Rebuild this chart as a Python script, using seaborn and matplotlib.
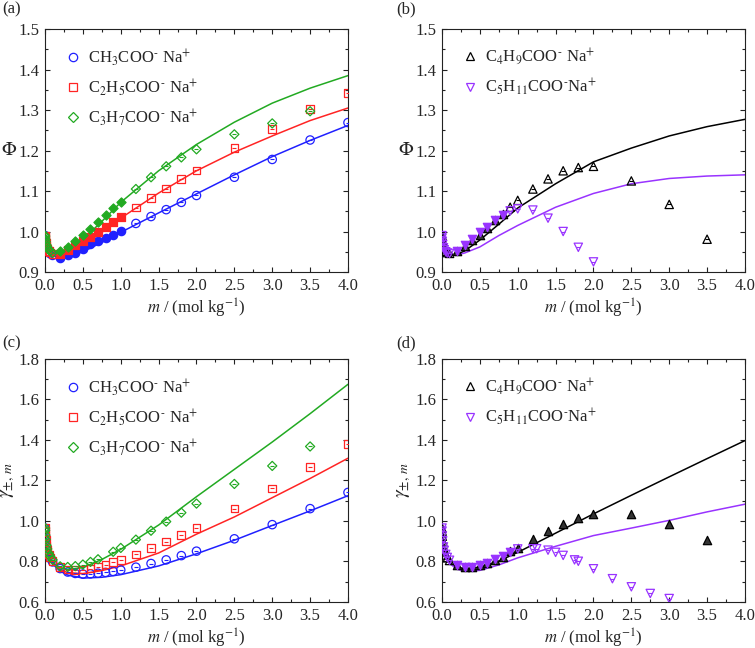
import numpy as np
import pandas as pd
import matplotlib
matplotlib.use("Agg")
import matplotlib.pyplot as plt
import seaborn as sns
from matplotlib.lines import Line2D
from matplotlib.ticker import MultipleLocator

# ---------------- data ----------------
m_low = [0.001, 0.002, 0.005, 0.01, 0.02, 0.03, 0.05, 0.07, 0.1]
m_mid = [0.2, 0.3, 0.4, 0.5, 0.6, 0.7, 0.8, 0.9, 1.0]
m_high = [1.2, 1.4, 1.6, 1.8, 2.0, 2.5, 3.0, 3.5, 4.0]

# (a) osmotic coefficient, experimental
phi_c1 = [0.990, 0.986, 0.979, 0.972, 0.963, 0.957, 0.950, 0.945, 0.941,
          0.935, 0.941, 0.948, 0.958, 0.968, 0.977, 0.985, 0.992, 1.002,
          1.020, 1.037, 1.054, 1.072, 1.089, 1.134, 1.178, 1.226, 1.269]
phi_c2 = [0.990, 0.986, 0.979, 0.972, 0.964, 0.958, 0.952, 0.948, 0.945,
          0.945, 0.954, 0.966, 0.977, 0.987, 0.999, 1.011, 1.024, 1.035,
          1.059, 1.083, 1.106, 1.129, 1.151, 1.206, 1.253, 1.302, 1.342]
m_c3 = m_low + m_mid + [1.2, 1.4, 1.6, 1.8, 2.0, 2.5, 3.0, 3.5]
phi_c3 = [0.990, 0.987, 0.981, 0.975, 0.967, 0.962, 0.955, 0.951, 0.947,
          0.951, 0.962, 0.977, 0.991, 1.007, 1.024, 1.040, 1.057, 1.073,
          1.105, 1.134, 1.161, 1.183, 1.203, 1.240, 1.267, 1.297]

# (b) osmotic coefficient, experimental
m_c4 = m_low + m_mid + [1.2, 1.4, 1.6, 1.8, 2.0, 2.5, 3.0, 3.5]
phi_c4 = [0.990, 0.985, 0.977, 0.970, 0.962, 0.957, 0.951, 0.948, 0.946,
          0.952, 0.964, 0.978, 0.991, 1.009, 1.028, 1.044, 1.060, 1.077,
          1.105, 1.130, 1.150, 1.158, 1.161, 1.125, 1.067, 0.981]
m_c5 = m_low + m_mid + [1.2, 1.4, 1.6, 1.8, 2.0]
phi_c5 = [0.990, 0.984, 0.976, 0.968, 0.960, 0.955, 0.950, 0.947, 0.946,
          0.953, 0.967, 0.981, 0.998, 1.012, 1.028, 1.041, 1.051, 1.056,
          1.053, 1.033, 1.000, 0.961, 0.925]

# (c) activity coefficient, experimental
gam_c1 = [0.965, 0.952, 0.928, 0.905, 0.875, 0.855, 0.832, 0.816, 0.798,
          0.765, 0.748, 0.741, 0.738, 0.739, 0.742, 0.746, 0.751, 0.758,
          0.772, 0.790, 0.808, 0.829, 0.851, 0.912, 0.982, 1.061, 1.141]
gam_c2 = [0.965, 0.952, 0.929, 0.906, 0.877, 0.858, 0.835, 0.820, 0.803,
          0.772, 0.760, 0.758, 0.760, 0.765, 0.775, 0.785, 0.797, 0.809,
          0.835, 0.866, 0.898, 0.932, 0.965, 1.061, 1.161, 1.268, 1.381]
m_gc3 = m_low + [0.2, 0.3, 0.4, 0.5, 0.6, 0.7, 0.9, 1.0] + [1.2, 1.4, 1.6, 1.8, 2.0, 2.5, 3.0, 3.5]
gam_c3 = [0.965, 0.953, 0.930, 0.909, 0.880, 0.862, 0.840, 0.825, 0.808,
          0.776, 0.773, 0.777, 0.785, 0.798, 0.811, 0.848, 0.867,
          0.908, 0.952, 0.997, 1.041, 1.086, 1.183, 1.272, 1.368]

# (d) activity coefficient, experimental
m_gc4 = m_low + m_mid + [1.2, 1.4, 1.6, 1.8, 2.0, 2.5, 3.0, 3.5]
gam_c4 = [0.965, 0.950, 0.925, 0.900, 0.870, 0.853, 0.832, 0.818, 0.805,
          0.782, 0.772, 0.772, 0.781, 0.792, 0.805, 0.820, 0.850, 0.867,
          0.910, 0.950, 0.986, 1.013, 1.034, 1.033, 0.984, 0.904]
m_gc5 = m_low + m_mid + [1.2, 1.25, 1.4, 1.5, 1.6, 1.75, 1.8, 2.0, 2.25, 2.5, 2.75, 3.0]
gam_c5 = [0.965, 0.950, 0.926, 0.902, 0.872, 0.855, 0.835, 0.820, 0.806,
          0.782, 0.774, 0.775, 0.785, 0.795, 0.810, 0.825, 0.848, 0.862,
          0.863, 0.863, 0.856, 0.845, 0.830, 0.808, 0.801, 0.764, 0.715, 0.675, 0.642, 0.617]

# model curves
m_line = [0.001, 0.01, 0.03, 0.06, 0.1, 0.2, 0.3, 0.5, 0.75, 1.0, 1.5, 2.0, 2.5, 3.0, 3.5, 4.0]
phi_l1 = [0.990, 0.968, 0.955, 0.946, 0.940, 0.935, 0.937, 0.950, 0.973, 0.998, 1.046, 1.093, 1.140, 1.185, 1.225, 1.262]
phi_l2 = [0.990, 0.968, 0.956, 0.948, 0.943, 0.941, 0.946, 0.965, 0.998, 1.033, 1.095, 1.150, 1.196, 1.236, 1.274, 1.305]
phi_l3 = [0.990, 0.970, 0.958, 0.951, 0.947, 0.946, 0.953, 0.980, 1.025, 1.072, 1.150, 1.215, 1.270, 1.317, 1.354, 1.385]
phi_l4 = [0.990, 0.968, 0.955, 0.947, 0.943, 0.944, 0.952, 0.979, 1.018, 1.058, 1.118, 1.172, 1.206, 1.236, 1.259, 1.277]
phi_l5 = [0.990, 0.968, 0.955, 0.947, 0.943, 0.942, 0.947, 0.962, 0.990, 1.015, 1.060, 1.094, 1.118, 1.131, 1.137, 1.140]
gam_l1 = [0.965, 0.902, 0.850, 0.815, 0.788, 0.752, 0.733, 0.718, 0.722, 0.735, 0.778, 0.838, 0.905, 0.978, 1.050, 1.125]
gam_l2 = [0.965, 0.903, 0.852, 0.818, 0.792, 0.760, 0.745, 0.740, 0.755, 0.778, 0.842, 0.935, 1.020, 1.115, 1.210, 1.310]
gam_l3 = [0.965, 0.904, 0.854, 0.821, 0.795, 0.768, 0.760, 0.770, 0.810, 0.860, 0.980, 1.120, 1.255, 1.390, 1.530, 1.675]
gam_l4 = [0.965, 0.902, 0.852, 0.818, 0.795, 0.772, 0.765, 0.772, 0.802, 0.845, 0.940, 1.035, 1.127, 1.218, 1.308, 1.397]
gam_l5 = [0.965, 0.900, 0.850, 0.814, 0.790, 0.762, 0.752, 0.756, 0.783, 0.818, 0.875, 0.928, 0.965, 1.003, 1.045, 1.083]

labels_ab = [r"CH$_3$COO$^{\text{-}}$ Na$^{+}$", r"C$_2$H$_5$COO$^{\text{-}}$ Na$^{+}$",
             r"C$_3$H$_7$COO$^{\text{-}}$ Na$^{+}$"]
labels_cd = [r"C$_4$H$_9$COO$^{\text{-}}$ Na$^{+}$", r"C$_5$H$_{11}$COO$^{\text{-}}$Na$^{+}$"]

BLUE, RED, GREEN, PURPLE, BLACK = "#2020ff", "#ff2424", "#22aa22", "#9933ff", "#000000"

# ---------------- style ----------------
sns.set_style("ticks")
plt.rcParams["font.family"] = ["Liberation Serif", "DejaVu Serif"]
plt.rcParams["mathtext.fontset"] = "stix"
plt.rcParams["xtick.direction"] = "in"
plt.rcParams["ytick.direction"] = "in"
plt.rcParams["axes.edgecolor"] = "#222222"
plt.rcParams["axes.linewidth"] = 0.8

FS = 11
fig = plt.figure(figsize=(7.55, 6.48), dpi=100)
W, H = 0.4013, 0.375
axA = fig.add_axes([0.0596, 0.5802, W, H])
axB = fig.add_axes([0.5854, 0.5802, W, H])
axC = fig.add_axes([0.0596, 0.0710, W, H])
axD = fig.add_axes([0.5854, 0.0710, W, H])

MS = 36  # marker area
SIZE_FACTOR = {"o": 1.0, "s": 0.85, "D": 0.6, "^": 1.0, "v": 1.0}


def points(ax, m, y, color, marker, filled_lo=None, filled_hi=None, fill_color=None):
    df = pd.DataFrame({"m": m, "y": y})
    if filled_lo is not None:
        mask = (df.m >= filled_lo) & (df.m <= filled_hi)
    else:
        mask = pd.Series(False, index=df.index)
    hol = df[~mask]
    fil = df[mask]
    s = MS * SIZE_FACTOR[marker]
    if len(hol):
        sns.scatterplot(data=hol, x="m", y="y", ax=ax, marker=marker, s=s,
                        facecolor="none", edgecolor=color, linewidth=0.9, zorder=3)
        sns.scatterplot(data=hol, x="m", y="y", ax=ax, marker="_", s=MS * 0.3,
                        color=color, linewidth=0.8, zorder=3)
    if len(fil):
        sns.scatterplot(data=fil, x="m", y="y", ax=ax, marker=marker, s=s,
                        color=fill_color or color, edgecolor=color, linewidth=0.9, zorder=3)


def curve(ax, y, color):
    sns.lineplot(x=m_line, y=y, ax=ax, color=color, linewidth=1.1, estimator=None, sort=True, zorder=2)


# (a)
curve(axA, phi_l1, BLUE); curve(axA, phi_l2, RED); curve(axA, phi_l3, GREEN)
m_all = m_low + m_mid + m_high
points(axA, m_all, phi_c1, BLUE, "o", 0.15, 1.05)
points(axA, m_all, phi_c2, RED, "s", 0.15, 1.05)
points(axA, m_c3, phi_c3, GREEN, "D", 0.15, 1.05)

# (b)
curve(axB, phi_l4, BLACK); curve(axB, phi_l5, PURPLE)
points(axB, m_c4, phi_c4, BLACK, "^", 0.15, 0.85, "#333333")
points(axB, m_c5, phi_c5, PURPLE, "v", 0.15, 0.85)

# (c)
curve(axC, gam_l1, BLUE); curve(axC, gam_l2, RED); curve(axC, gam_l3, GREEN)
points(axC, m_all, gam_c1, BLUE, "o")
points(axC, m_all, gam_c2, RED, "s")
points(axC, m_gc3, gam_c3, GREEN, "D")

# (d)
curve(axD, gam_l4, BLACK); curve(axD, gam_l5, PURPLE)
points(axD, m_gc4, gam_c4, BLACK, "^", 0.15, 4.0, "#333333")
points(axD, m_gc5, gam_c5, PURPLE, "v", 0.15, 0.95)

for ax, ylim, ymaj, ymin, kind in [
    (axA, (0.9, 1.5), 0.1, 0.05, "phi"),
    (axB, (0.9, 1.5), 0.1, 0.05, "phi"),
    (axC, (0.6, 1.8), 0.2, 0.1, "gam"),
    (axD, (0.6, 1.8), 0.2, 0.1, "gam"),
]:
    ax.set_xlim(0, 4.0)
    ax.set_ylim(*ylim)
    ax.xaxis.set_major_locator(MultipleLocator(0.5))
    ax.xaxis.set_minor_locator(MultipleLocator(0.25))
    ax.yaxis.set_major_locator(MultipleLocator(ymaj))
    ax.yaxis.set_minor_locator(MultipleLocator(ymin))
    ax.xaxis.set_major_formatter(matplotlib.ticker.FormatStrFormatter("%.1f"))
    ax.yaxis.set_major_formatter(matplotlib.ticker.FormatStrFormatter("%.1f"))
    ax.tick_params(which="both", direction="in", top=True, right=True, labelsize=FS + 1, pad=4,
                   color="#222222")
    ax.tick_params(which="major", length=3.5, width=0.8)
    ax.tick_params(which="minor", length=2.0, width=0.8)
    ax.set_xlabel(r"$m$ / (mol kg$^{-1}$)", fontsize=FS + 1, labelpad=2)
    if kind == "phi":
        ax.set_ylabel(r"$\Phi$", fontsize=FS + 3, rotation=0, ha="center", va="center")
        ax.yaxis.set_label_coords(-0.118, 0.5)
    else:
        ax.set_ylabel(r"$\gamma_{\pm,\,m}$", fontsize=FS + 3)
        ax.yaxis.set_label_coords(-0.094, 0.5)
    for s in ax.spines.values():
        s.set_visible(True)


def legend(ax, colors, markers, labels):
    handles = [Line2D([], [], linestyle="none", marker=mk, markerfacecolor="none",
                      markeredgecolor=c, markersize=6 * np.sqrt(SIZE_FACTOR[mk]), markeredgewidth=0.9)
               for c, mk in zip(colors, markers)]
    ax.legend(handles, labels, loc="upper left", bbox_to_anchor=(0.02, 0.975), frameon=False,
              fontsize=FS + 1, handletextpad=0.3, labelspacing=0.55, handlelength=1.2,
              borderaxespad=0.3)


legend(axA, [BLUE, RED, GREEN], ["o", "s", "D"], labels_ab)
legend(axC, [BLUE, RED, GREEN], ["o", "s", "D"], labels_ab)
legend(axB, [BLACK, PURPLE], ["^", "v"], labels_cd)
legend(axD, [BLACK, PURPLE], ["^", "v"], labels_cd)

for lab, x, y in [("(a)", 0.003, 0.985), ("(b)", 0.525, 0.985), ("(c)", 0.003, 0.47), ("(d)", 0.525, 0.47)]:
    fig.text(x, y, lab, fontsize=FS + 1, ha="left", va="center")

fig.savefig("out.png", dpi=100)
